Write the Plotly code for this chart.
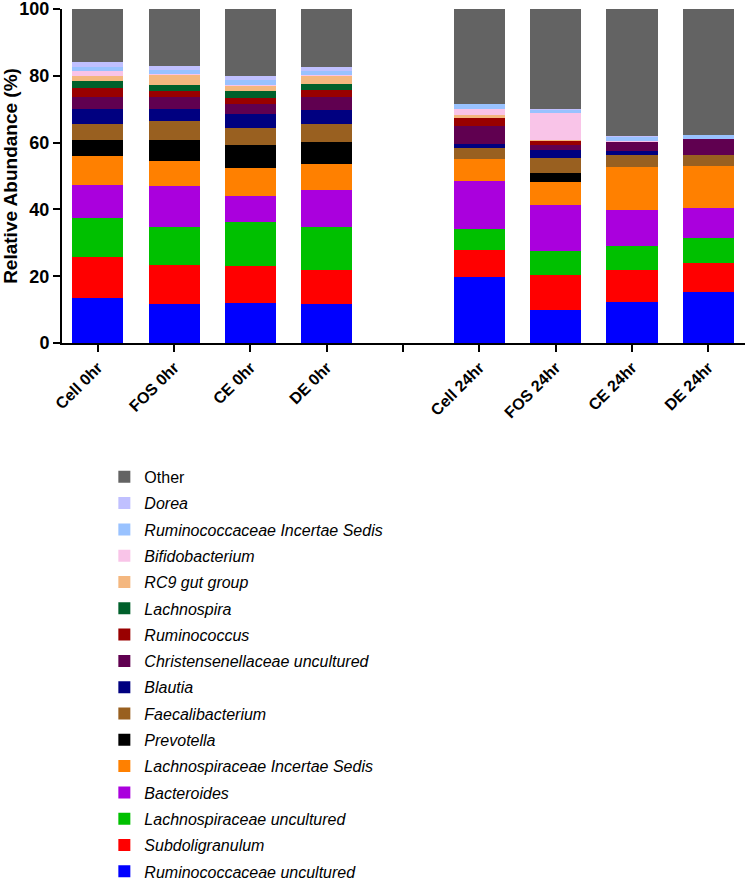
import plotly.graph_objects as go

# sample order on the x axis; a blank slot separates 0hr and 24hr
samples_0hr = ["Cell 0hr", "FOS 0hr", "CE 0hr", "DE 0hr"]
samples_24hr = ["Cell 24hr", "FOS 24hr", "CE 24hr", "DE 24hr"]
gap_label = " "

# relative abundance (%) per taxon, in sample order (Cell/FOS/CE/DE 0hr, then 24hr)
ruminococcaceae_uncultured = [13.4, 11.6, 12.1, 11.7, 19.9, 10.0, 12.4, 15.3]
subdoligranulum = [12.4, 11.9, 11.1, 10.3, 7.8, 10.5, 9.5, 8.8]
lachnospiraceae_uncultured = [11.7, 11.1, 13.0, 12.7, 6.4, 6.9, 7.1, 7.2]
bacteroides = [9.7, 12.3, 7.8, 11.0, 14.4, 14.0, 10.9, 9.0]
lachnospiraceae_incertae = [8.8, 7.5, 8.4, 7.8, 6.7, 6.8, 12.9, 12.7]
prevotella = [4.8, 6.5, 6.9, 6.6, 0.0, 2.7, 0.0, 0.0]
faecalibacterium = [4.8, 5.7, 5.1, 5.5, 3.2, 4.5, 3.4, 3.3]
blautia = [4.5, 3.5, 4.3, 4.1, 1.2, 2.3, 1.4, 0.0]
christensenellaceae_uncultured = [3.6, 3.5, 2.9, 4.0, 5.5, 1.7, 2.7, 4.7]
ruminococcus = [2.5, 2.0, 1.9, 2.1, 2.2, 1.3, 0.0, 0.0]
lachnospira = [2.1, 1.6, 1.9, 1.7, 0.0, 0.0, 0.0, 0.0]
rc9_gut_group = [1.7, 3.3, 1.6, 2.5, 1.0, 0.1, 0.0, 0.0]
bifidobacterium = [1.4, 0.1, 0.1, 0.1, 1.8, 8.2, 0.1, 0.0]
ruminococcaceae_incertae = [1.3, 1.2, 1.6, 1.4, 1.5, 1.0, 1.4, 1.3]
dorea = [1.3, 1.2, 1.3, 1.0, 0.1, 0.1, 0.1, 0.0]
other = [16.0, 17.0, 20.0, 17.5, 28.3, 29.9, 38.1, 37.7]

# bottom of the stack first
taxa = [
    ("<i>Ruminococcaceae uncultured</i>", ruminococcaceae_uncultured, "#0000FF"),
    ("<i>Subdoligranulum</i>", subdoligranulum, "#FF0000"),
    ("<i>Lachnospiraceae uncultured</i>", lachnospiraceae_uncultured, "#00C000"),
    ("<i>Bacteroides</i>", bacteroides, "#AA00DD"),
    ("<i>Lachnospiraceae Incertae Sedis</i>", lachnospiraceae_incertae, "#FF8000"),
    ("<i>Prevotella</i>", prevotella, "#000000"),
    ("<i>Faecalibacterium</i>", faecalibacterium, "#996020"),
    ("<i>Blautia</i>", blautia, "#000080"),
    ("<i>Christensenellaceae uncultured</i>", christensenellaceae_uncultured, "#600050"),
    ("<i>Ruminococcus</i>", ruminococcus, "#990000"),
    ("<i>Lachnospira</i>", lachnospira, "#00602B"),
    ("<i>RC9 gut group</i>", rc9_gut_group, "#F4B77F"),
    ("<i>Bifidobacterium</i>", bifidobacterium, "#F9C4E8"),
    ("<i>Ruminococcaceae Incertae Sedis</i>", ruminococcaceae_incertae, "#99C2FF"),
    ("<i>Dorea</i>", dorea, "#C0C0FF"),
    ("Other", other, "#636363"),
]

x = samples_0hr + [gap_label] + samples_24hr

fig = go.Figure()
for i, (name, vals, color) in enumerate(taxa):
    y = vals[:4] + [None] + vals[4:]
    fig.add_trace(go.Bar(
        x=x, y=y, name=name, marker_color=color,
        marker_line_width=0, width=0.67,
        legendgroup=f"g{i}", legendrank=100 - i,
    ))

FONT = "Arial, Liberation Sans, sans-serif"

fig.update_layout(
    barmode="stack",
    width=750, height=883,
    margin=dict(l=62, r=5, t=9, b=540, autoexpand=False),
    plot_bgcolor="white", paper_bgcolor="white",
    font=dict(family=FONT, color="black"),
    legend=dict(
        traceorder="grouped", tracegroupgap=2.5,
        x=0.062, xanchor="left", y=-0.35, yanchor="top",
        font=dict(size=16, family=FONT),
    ),
    xaxis=dict(
        type="category", categoryorder="array", categoryarray=x,
        range=[-0.47, 8.48],
        showline=True, linewidth=2, linecolor="black",
        ticks="outside", ticklen=7, tickwidth=2, tickcolor="black",
        tickangle=-45, tickfont=dict(size=16, family=FONT, weight="bold"),
    ),
    yaxis=dict(
        range=[0, 100], tickvals=[0, 20, 40, 60, 80, 100],
        ticklabeloverflow="allow",
        showline=True, linewidth=2, linecolor="black", showgrid=False,
        zeroline=False,
        ticks="outside", ticklen=7, tickwidth=2, tickcolor="black",
        tickfont=dict(size=18, family=FONT, weight="bold"),
        title=dict(text="Relative Abundance (%)", font=dict(size=19, family=FONT, weight="bold"),
                   standoff=2),
    ),
)

# drop the browser's default 8px body margin so the figure sits at the page corner
fig.write_html(
    "out.html",
    config={"displayModeBar": False},
    post_script="document.body.style.margin='0px';",
)
